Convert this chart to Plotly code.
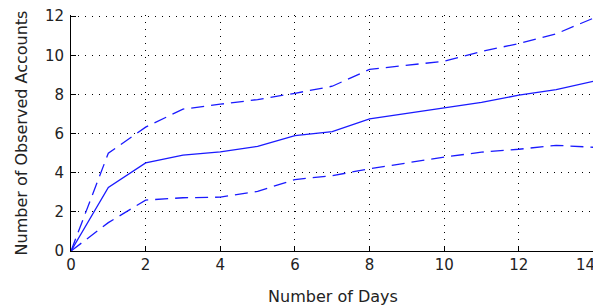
import plotly.graph_objects as go

days = list(range(15))
mean_accounts = [0, 3.25, 4.5, 4.9, 5.07, 5.35, 5.9, 6.1, 6.75, 7.03, 7.3, 7.6, 7.96, 8.25, 8.67]
upper_accounts = [0, 5.0, 6.33, 7.25, 7.5, 7.74, 8.06, 8.42, 9.28, 9.5, 9.7, 10.2, 10.6, 11.1, 11.9]
lower_accounts = [0, 1.45, 2.6, 2.72, 2.75, 3.05, 3.65, 3.85, 4.2, 4.5, 4.8, 5.05, 5.2, 5.4, 5.3]
x_ticks = [0, 2, 4, 6, 8, 10, 12, 14]
y_ticks = [0, 2, 4, 6, 8, 10, 12]

blue = "#1a1aff"
fig = go.Figure()
fig.add_trace(go.Scatter(x=days, y=upper_accounts, mode="lines",
                         line=dict(color=blue, width=1.3, dash="13px,7px")))
fig.add_trace(go.Scatter(x=days, y=mean_accounts, mode="lines",
                         line=dict(color=blue, width=1.3)))
fig.add_trace(go.Scatter(x=days, y=lower_accounts, mode="lines",
                         line=dict(color=blue, width=1.3, dash="13px,7px")))

tick_font = dict(family="DejaVu Sans", size=15, color="#222")
title_font = dict(family="DejaVu Sans", size=16, color="#222")
# page body has an 8px default margin, so the figure is sized to fit inside it
fig.update_layout(
    width=593, height=300,
    margin=dict(l=63, r=6, t=7, b=57),
    paper_bgcolor="white", plot_bgcolor="white",
    showlegend=False,
    font=tick_font,
)
# the last x tick label sits at the right edge: draw it as an annotation kept inside
x_labels = [str(v) for v in x_ticks[:-1]] + [""]
fig.add_annotation(x=x_ticks[-1], y=0, xref="x", yref="paper",
                   text=str(x_ticks[-1]), showarrow=False,
                   xanchor="right", yanchor="top", xshift=3, yshift=-3,
                   font=tick_font)
fig.update_xaxes(
    range=[0, 14.04], tickvals=x_ticks, ticktext=x_labels,
    showgrid=True, gridcolor="black", gridwidth=1, griddash="1px,6px",
    showline=True, linecolor="black", linewidth=1,
    ticks="inside", ticklen=5, tickcolor="black",
    zeroline=False, automargin=False, ticklabeloverflow="allow",
    title=dict(text="Number of Days", font=title_font, standoff=17),
)
fig.update_yaxes(
    range=[0, 12.06], tickvals=y_ticks, ticktext=[str(v) for v in y_ticks],
    showgrid=True, gridcolor="black", gridwidth=1, griddash="1px,6px",
    showline=True, linecolor="black", linewidth=1,
    ticks="inside", ticklen=5, tickcolor="black", ticklabelstandoff=3,
    zeroline=False, automargin=False, ticklabeloverflow="allow",
    title=dict(text="Number of Observed Accounts", font=title_font, standoff=13),
)
fig.write_html("out.html")
